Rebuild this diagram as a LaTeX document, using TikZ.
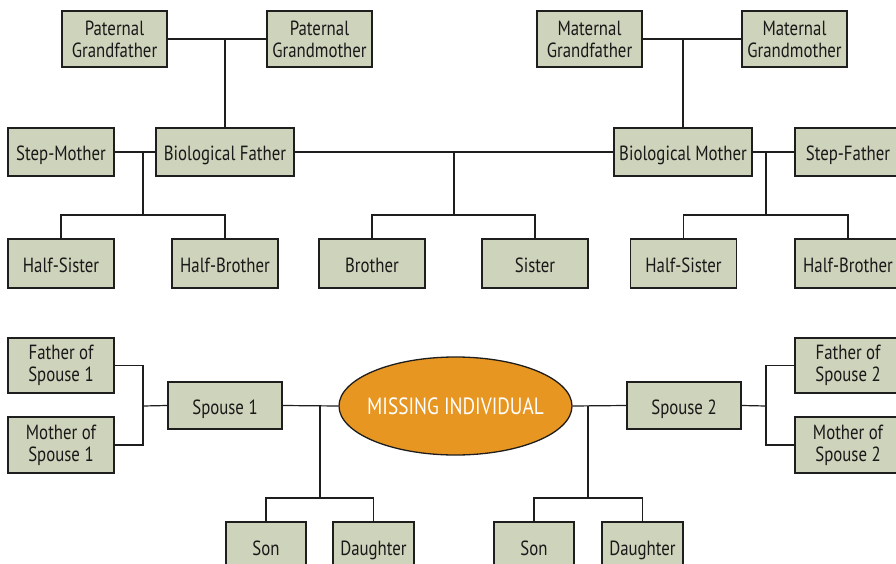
\documentclass[tikz,border=0pt]{standalone}
\usepackage{fontspec}
\setmainfont[FakeStretch=0.82]{PT Sans}
\usetikzlibrary{shapes.geometric}
\definecolor{boxfill}{HTML}{CED3BB}
\definecolor{orangefill}{HTML}{E79622}
\definecolor{edge}{HTML}{1E1E1E}
\tikzset{
  person/.style={draw=edge, line width=1.3pt, fill=boxfill, inner sep=0pt,
    align=center, font=\fontsize{20.5}{22}\selectfont, text=black!90},
  one/.style={text height=18pt, text depth=0pt},
  wide/.style={person, one, minimum width=138pt, minimum height=48pt},
  std/.style={person, one, minimum width=106pt, minimum height=48pt},
  gp/.style={person, minimum width=105pt, minimum height=56pt},
  kid/.style={person, one, minimum width=80pt, minimum height=48pt},
  spouse/.style={person, one, minimum width=114pt, minimum height=47pt},
  link/.style={draw=edge, line width=1.2pt},
}
\begin{document}
\begin{tikzpicture}[x=1pt, y=-1pt]
\useasboundingbox (0,0) rectangle (896,564);
\clip (0,0) rectangle (896,564);
\fill[white] (0,0) rectangle (896,564);
% grandparents
\node[gp] (pgf) at (114.5,39) {Paternal\\Grandfather};
\node[gp] (pgm) at (319.5,39) {Paternal\\Grandmother};
\node[gp] (mgf) at (589.5,39) {Maternal\\Grandfather};
\node[gp] (mgm) at (794.5,39) {Maternal\\Grandmother};
% parents row
\node[std] (stepm) at (61,152) {Step-Mother};
\node[wide] (bfa) at (225,152) {Biological Father};
\node[wide] (bmo) at (683,152) {Biological Mother};
\node[std] (stepf) at (848,152) {Step-Father};
% siblings row
\node[std, minimum height=49pt] (hs1) at (61,263.5) {Half-Sister};
\node[std, minimum height=49pt] (hb1) at (225,263.5) {Half-Brother};
\node[std, minimum height=49pt] (bro) at (372,263.5) {Brother};
\node[std, minimum height=49pt] (sis) at (535,263.5) {Sister};
\node[std, minimum height=49pt] (hs2) at (683.5,263.5) {Half-Sister};
\node[std, minimum height=49pt] (hb2) at (848,263.5) {Half-Brother};
% spouse row
\node[gp, minimum width=106pt, minimum height=55pt] (fs1) at (61,365.5) {Father of\\Spouse 1};
\node[gp, minimum width=106pt] (ms1) at (61,445) {Mother of\\Spouse 1};
\node[spouse] (sp1) at (225,405.5) {Spouse 1};
\node[ellipse, draw=edge, line width=1.3pt, fill=orangefill, inner sep=0pt,
  minimum width=233pt, minimum height=98pt] (ell) at (455.5,406) {};
\node[text=white, inner sep=0pt, text height=17pt, text depth=0pt,
  font=\fontsize{23.5}{26}\selectfont] (elltext) at (ell.center) {MISSING INDIVIDUAL};
\node[spouse] (sp2) at (684,405.5) {Spouse 2};
\node[gp, minimum width=106pt, minimum height=55pt] (fs2) at (848,365.5) {Father of\\Spouse 2};
\node[gp, minimum width=106pt] (ms2) at (848,445) {Mother of\\Spouse 2};
% children
\node[kid] (son1) at (266,546) {Son};
\node[kid, minimum width=81pt] (dau1) at (373.5,546) {Daughter};
\node[kid] (son2) at (534,546) {Son};
\node[kid, minimum width=81pt] (dau2) at (642.5,546) {Daughter};
% junction coordinates
\coordinate (j1) at (143,152);
\coordinate (b1) at (143,215);
\coordinate (j2) at (454,152);
\coordinate (b2) at (454,215);
\coordinate (j3) at (766,152);
\coordinate (b3) at (766,215);
\coordinate (k1) at (143,406);
\coordinate (k2) at (766,406);
\coordinate (m1) at (320,406);
\coordinate (n1) at (320,498);
\coordinate (m2) at (588,406);
\coordinate (n2) at (588,498);
% connectors
\draw[link] (pgf.east) -- (pgm.west);
\draw[link] (pgf.east -| bfa.north) -- (bfa.north);
\draw[link] (mgf.east) -- (mgm.west);
\draw[link] (mgf.east -| bmo.north) -- (bmo.north);
\draw[link] (stepm.east) -- (bfa.west);
\draw[link] (j1) -- (b1);
\draw[link] (hs1.north) |- (b1) -| (hb1.north);
\draw[link] (bfa.east) -- (bmo.west);
\draw[link] (j2) -- (b2);
\draw[link] (bro.north) |- (b2) -| (sis.north);
\draw[link] (bmo.east) -- (stepf.west);
\draw[link] (j3) -- (b3);
\draw[link] (hs2.north) |- (b3) -| (hb2.north);
\draw[link] (fs1.east) -| (k1) |- (ms1.east);
\draw[link] (k1) -- (sp1.west);
\draw[link] (sp1.east) -- (ell.west);
\draw[link] (m1) -- (n1);
\draw[link] (son1.north) |- (n1) -| (dau1.north);
\draw[link] (ell.east) -- (sp2.west);
\draw[link] (m2) -- (n2);
\draw[link] (son2.north) |- (n2) -| (dau2.north);
\draw[link] (fs2.west) -| (k2) |- (ms2.west);
\draw[link] (k2) -- (sp2.east);
\end{tikzpicture}
\end{document}
